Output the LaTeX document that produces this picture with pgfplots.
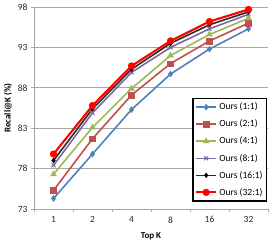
\documentclass[border=0pt]{standalone}
\usepackage{pgfplots}
\pgfplotsset{compat=1.18}
\usepackage{fontspec}
\setmainfont{Carlito}
\definecolor{cblue}{HTML}{4F81BD}
\definecolor{cred}{HTML}{C0504D}
\definecolor{cgreen}{HTML}{9BBB59}
\definecolor{cpurple}{HTML}{8064A2}
\definecolor{cblack}{HTML}{2B2B20}
\definecolor{cgrid}{HTML}{A6A6A6}
\begin{document}
\begin{tikzpicture}
\begin{axis}[
  scale only axis, width=234pt, height=202pt,
  xmin=-0.5, xmax=5.5, ymin=73, ymax=98,
  xtick={0,1,2,3,4,5}, xticklabels={1,2,4,8,16,32},
  minor xtick={-0.5,0.5,1.5,2.5,3.5,4.5,5.5},
  ytick={73,78,83,88,93,98},
  major x tick style={draw=none},
  minor tick length=3pt, major tick length=3pt,
  tick align=outside,
  axis x line*=bottom, axis y line*=left,
  axis line style={draw=cgrid, line width=0.8pt, -},
  tick style={draw=cgrid, line width=0.8pt},
  ymajorgrids, grid style={draw=cgrid, line width=0.8pt},
  font=\fontsize{9}{10}\selectfont,
  /pgf/number format/assume math mode=true,
  ticklabel style={font=\fontsize{9.5}{10}\selectfont, text=black!85},
  xticklabel style={yshift=-1pt},
  xlabel={\textbf{Top K}}, ylabel={\textbf{Recall@K (\%)}},
  xlabel style={at={(axis description cs:0.5,-0.133)}, anchor=center},
  ylabel style={at={(axis description cs:-0.111,0.5)}, anchor=center},
  legend style={at={(rel axis cs:0.997,0.035)}, anchor=south east,
    draw=black, line width=1.6pt, fill=white,
    font=\fontsize{9.5}{10}\selectfont, row sep=4.6pt,
    inner xsep=2pt, inner ysep=2.5pt},
  legend cell align=left,
  legend image code/.code={
    \draw[mark repeat=2,mark phase=2] plot coordinates {(0cm,0cm) (0.36cm,0cm) (0.72cm,0cm)};},
]
\addplot[cblue, line width=1.6pt, mark=diamond*, mark size=3pt, mark options={solid, fill=cblue, line width=0.4pt}]
  coordinates {(0,74.3) (1,79.8) (2,85.3) (3,89.7) (4,92.8) (5,95.3)};
\addplot[cred, line width=1.6pt, mark=square*, mark size=2.8pt, mark options={solid, fill=cred, line width=0.4pt}]
  coordinates {(0,75.3) (1,81.7) (2,87.1) (3,91.0) (4,93.8) (5,96.0)};
\addplot[cgreen, line width=1.6pt, mark=triangle*, mark size=3.4pt, mark options={solid, fill=cgreen, line width=0.4pt}]
  coordinates {(0,77.3) (1,83.1) (2,87.9) (3,92.0) (4,94.6) (5,96.6)};
\addplot[cpurple, line width=1.6pt, mark=x, mark size=2.8pt, mark options={solid, line width=1pt}]
  coordinates {(0,78.4) (1,84.9) (2,89.9) (3,93.0) (4,95.3) (5,97.1)};
\addplot[cblack, line width=1.6pt, mark=diamond*, mark size=2.4pt, mark options={solid, fill=black, draw=black, line width=0.4pt}]
  coordinates {(0,79.0) (1,85.4) (2,90.3) (3,93.5) (4,95.8) (5,97.4)};
\addplot[red, line width=2.1pt, mark=*, mark size=3.4pt, mark options={solid, fill=red, line width=0.4pt}]
  coordinates {(0,79.8) (1,85.8) (2,90.7) (3,93.8) (4,96.2) (5,97.7)};
\legend{Ours (1:1),Ours (2:1),Ours (4:1),Ours (8:1),Ours (16:1),Ours (32:1)}
\end{axis}
\pgfresetboundingbox
\path[use as bounding box] (-34pt,-33pt) rectangle (240pt,209pt);
\end{tikzpicture}
\end{document}
